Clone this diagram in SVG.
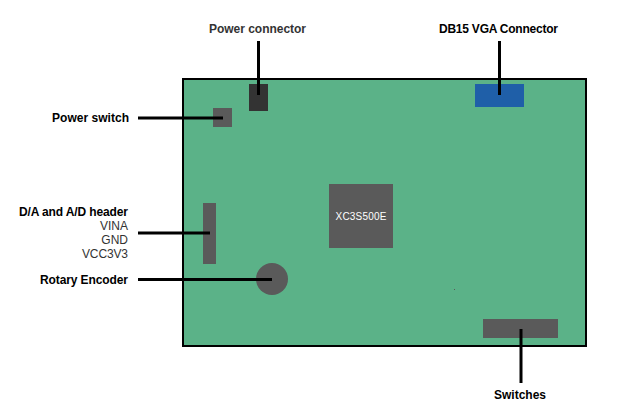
<svg xmlns="http://www.w3.org/2000/svg" width="628" height="420" viewBox="0 0 628 420">
<style>
text{font-family:"Liberation Sans",Arial,sans-serif;font-size:12px;fill:#000}
.b{font-weight:bold}
.e{text-anchor:end}
.m{text-anchor:middle}
.n{fill:#5a5a5a}
.r{fill:#333}
.c{fill:none;stroke:#000;stroke-width:3}
.x{fill:#fff;font-size:10px}
</style>
<rect width="628" height="420" fill="#fff"/>
<g id="board"><rect x="183" y="79" width="403" height="267" fill="#5bb288" stroke="#000" stroke-width="2"/><rect x="454" y="289" width="1" height="1" fill="#5a5a5a"/></g>
<g id="power-switch"><rect class="n" x="213" y="108" width="19" height="19"/></g>
<g id="power-connector"><rect x="249" y="84" width="19" height="27" fill="#333"/></g>
<g id="vga"><rect x="475" y="84" width="49" height="23" fill="#1f5fa8"/></g>
<g id="chip"><rect class="n" x="329" y="184" width="64" height="64"/><text x="361" y="220" class="m x" textLength="51">XC3S500E</text></g>
<g id="header"><rect class="n" x="203" y="203" width="13" height="61"/></g>
<g id="encoder"><circle class="n" cx="272" cy="279" r="16"/></g>
<g id="switches"><rect class="n" x="483" y="319" width="75" height="19"/></g>
<g id="connectors">
<path class="c" d="M138 118H223"/>
<path class="c" d="M258.500 41V95"/>
<path class="c" d="M499.500 41V95"/>
<path class="c" d="M138 233H210"/>
<path class="c" d="M138 279.500H272"/>
<path class="c" d="M521 329V383"/>
</g>
<g id="labels">
<text x="129" y="122" class="b e" textLength="77">Power switch</text>
<text x="257.500" y="33" class="b m r" textLength="97">Power connector</text>
<text x="498.500" y="33" class="b m" textLength="119">DB15 VGA Connector</text>
<text x="128" y="216" class="b e" textLength="109">D/A and A/D header</text>
<text x="128" y="230" class="e r">VINA</text>
<text x="128" y="244" class="e r">GND</text>
<text x="128" y="258" class="e r" textLength="46">VCC3V3</text>
<text x="128" y="284" class="b e" textLength="88">Rotary Encoder</text>
<text x="520" y="399" class="b m" textLength="52">Switches</text>
</g>
</svg>
